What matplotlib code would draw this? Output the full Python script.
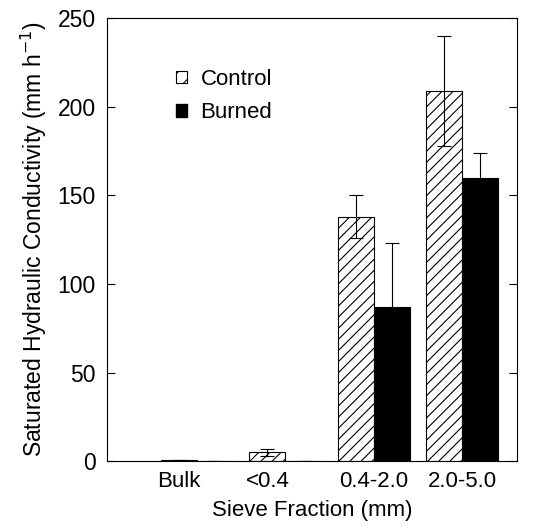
import numpy as np
import matplotlib.pyplot as plt
from matplotlib.patches import Patch

plt.rcParams['font.family'] = ['Liberation Sans', 'DejaVu Sans']
plt.rcParams['hatch.linewidth'] = 0.8

labels = ["Bulk", "<0.4", "0.4-2.0", "2.0-5.0"]
control = [1, 5, 138, 209]
control_err = [0, 2, 12, 31]
burned = [0, 0, 87, 160]
burned_err = [0, 0, 36, 14]

x = np.arange(len(labels))
w = 0.41

fig, ax = plt.subplots(figsize=(5.43, 5.26), dpi=100)
fig.subplots_adjust(left=0.197, right=0.952, top=0.966, bottom=0.123)

ax.bar(x - w / 2, control, w, color="white", edgecolor="black", hatch="///",
       linewidth=0.8, yerr=control_err, error_kw=dict(ecolor="black", elinewidth=0.8, capsize=5, capthick=0.8))
ax.bar(x + w / 2, burned, w, color="black", edgecolor="black",
       linewidth=0.8, yerr=burned_err, error_kw=dict(ecolor="black", elinewidth=0.8, capsize=5, capthick=0.8))

ax.set_xlim(-1.02, 3.62)
ax.set_ylim(0, 250)
ax.set_yticks([0, 50, 100, 150, 200, 250])
tick_pos = [x[0] - w / 2, x[1] - w / 2, x[2], x[3]]
ax.set_xticks(tick_pos)
ax.set_xticklabels(labels)
ax.tick_params(axis="x", length=0, labelsize=16, pad=7)
ax.tick_params(axis="y", direction="in", right=True, length=6, labelsize=16.5, width=0.8, pad=8)
for s in ax.spines.values():
    s.set_linewidth(0.8)

ax.set_ylabel("Saturated Hydraulic Conductivity (mm h$^{-1}$)", fontsize=16.5, labelpad=6)
ax.set_xlabel("Sieve Fraction (mm)", fontsize=16, labelpad=6)

handles = [Patch(facecolor="white", edgecolor="black", hatch="//", linewidth=0.8),
           Patch(facecolor="black", edgecolor="black")]
ax.legend(handles, ["Control", "Burned"], loc="upper left", bbox_to_anchor=(0.12, 0.93),
          frameon=False, fontsize=16, handlelength=0.5, handleheight=0.5, handletextpad=0.6,
          labelspacing=0.55)

fig.savefig("out.png")
